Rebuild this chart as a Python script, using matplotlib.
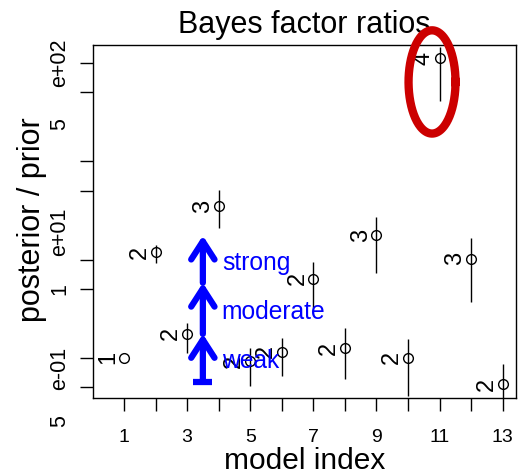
import numpy as np
import matplotlib.pyplot as plt
import matplotlib.transforms as mtransforms

plt.rcParams['font.family'] = ['Liberation Sans', 'DejaVu Sans']

# model estimates and ranges of posterior/prior ratio
models = np.arange(1, 14)
est = [0.1, 1.18, 0.176, 3.47, 0.093, 0.115, 0.64, 0.126, 1.76, 0.1, 112, 1.02, 0.0543]
lo = [0.1, 0.93, 0.112, 2.07, 0.0518, 0.0655, 0.324, 0.061, 0.736, 0.041, 40.9, 0.372, 0.035]
hi = [0.1, 1.39, 0.228, 5.06, 0.126, 0.16, 0.955, 0.202, 2.69, 0.156, 146, 1.67, 0.0869]
counts = ["1", "2", "2", "3", "2", "2", "2", "2", "3", "2", "4", "3", "2"]

ytick_vals = [0.05, 0.1, 0.5, 1, 5, 10, 50, 100]
ylab_text = ["5", "e-01", "1", "e+01", "5", "e+02"]
ylab_pos = [0.0228, 0.078, 0.5, 1.9, 24, 100]

xtick_vals = list(range(1, 14))
xtick_labels = [str(v) if v % 2 == 1 else "" for v in xtick_vals]

arrow_levels = [0.057, 0.175, 0.58, 1.75]
arrow_x = 3.5
evidence = ["weak", "moderate", "strong"]
evidence_y = [0.093, 0.291, 0.93]

fig = plt.figure(figsize=(5.19, 4.74), dpi=100)
ax = fig.add_axes([93 / 519, (474 - 398) / 474, (516 - 93) / 519, (398 - 45) / 474])
ax.set_yscale('log')
ax.set_xlim(0.02, 13.42)
ax.set_ylim(0.0391, 152)

ax.vlines(models, lo, hi, color='black', lw=1.0)
ax.plot(models, est, 'o', mfc='none', mec='black', ms=7, mew=1.0, clip_on=False)
for m, e, c in zip(models, est, counts):
    ax.annotate(c, (m, e), xytext=(-3.5, 0), textcoords='offset points',
                rotation=90, ha='right', va='center', fontsize=17)

# evidence arrows
ax.plot([arrow_x - 0.3, arrow_x + 0.3], [arrow_levels[0]] * 2, color='blue', lw=4.5,
        solid_capstyle='butt')
for a, b in zip(arrow_levels[:-1], arrow_levels[1:]):
    ax.annotate('', xy=(arrow_x, b), xytext=(arrow_x, a),
                arrowprops=dict(arrowstyle='->,head_length=0.65,head_width=0.42',
                                color='blue', lw=4.5, shrinkA=0, shrinkB=0,
                                mutation_scale=20))
for t, y in zip(evidence, evidence_y):
    ax.text(4.1, y, t, color='blue', fontsize=17.7, ha='left', va='center')

# highlight ellipse around model 11
t = np.linspace(0, 2 * np.pi, 200)
ex = 10.76 + 0.744 * np.cos(t)
ey = 10 ** (np.log10(64) + 0.525 * np.sin(t))
ax.plot(ex, ey, color='#cc0000', lw=6, clip_on=False, zorder=10)

ax.set_xticks(xtick_vals, labels=xtick_labels)
ax.set_yticks(ytick_vals, labels=[""] * len(ytick_vals))
ax.minorticks_off()
ax.tick_params(axis='both', length=9.4, width=1.0, labelsize=14)
ax.tick_params(axis='x', pad=13)
trans = mtransforms.blended_transform_factory(ax.transAxes, ax.transData)
for s, y in zip(ylab_text, ylab_pos):
    ax.text(-0.078, y, s, rotation=90, ha='center', va='center', fontsize=15.5,
            transform=trans, clip_on=False)
for sp in ax.spines.values():
    sp.set_linewidth(1.0)

ax.set_title("Bayes factor ratios", fontsize=22, pad=9)
ax.set_xlabel("model index", fontsize=21.5)
ax.set_ylabel("posterior / prior", fontsize=22)
ax.xaxis.set_label_coords(0.5, -0.138)
ax.yaxis.set_label_coords(-0.108, 0.506)

fig.savefig("out.png", dpi=100)
